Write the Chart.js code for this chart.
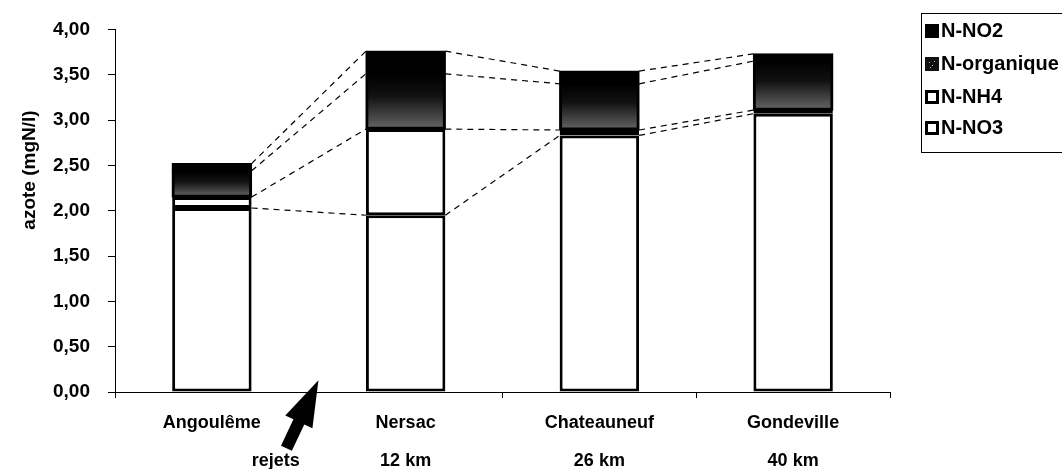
<!DOCTYPE html>
<html>
<head>
<meta charset="utf-8">
<script src="https://cdn.jsdelivr.net/npm/chart.js@4/dist/chart.umd.min.js"></script>
<style>
  html, body { margin: 0; padding: 0; background: #fff; }
  #wrap { width: 1062px; height: 469px; }
</style>
</head>
<body>
<div id="wrap"><canvas id="chart" width="1062" height="469"></canvas></div>
<script>
// stations along the river, with distance below
const categories = ['Angoulême', 'Nersac', 'Chateauneuf', 'Gondeville'];
const distances  = ['', '12 km', '26 km', '40 km'];

// nitrogen forms (mgN/l), stacked from the bottom
const nNO3 = [2.03, 1.95, 2.83, 3.07];
const nNH4 = [0.12, 0.95, 0.06, 0.04];
const nOrg = [0.29, 0.61, 0.51, 0.54];
const nNO2 = [0.08, 0.25, 0.14, 0.08];

const yMax  = 4;
const yStep = 0.5;

const FONT = "'Liberation Sans', Arial, sans-serif";

// organique: dark at the top fading into grey speckle at the bottom
function orgFill(c) {
  const chart = c.chart;
  const y = chart.scales && chart.scales.y;
  if (!y || !chart.chartArea) return '#333';
  const i = c.dataIndex;
  const lo = nNO3[i] + nNH4[i];
  const hi = lo + nOrg[i];
  const g = chart.ctx.createLinearGradient(0, y.getPixelForValue(hi), 0, y.getPixelForValue(lo));
  g.addColorStop(0, '#000');
  g.addColorStop(0.4, '#111');
  g.addColorStop(1, '#666');
  return g;
}

// dashed "series lines" joining each segment top between bars
const seriesLines = {
  id: 'seriesLines',
  beforeDatasetsDraw(chart) {
    const ctx = chart.ctx;
    ctx.save();
    ctx.strokeStyle = '#000';
    ctx.lineWidth = 1.2;
    ctx.setLineDash([6, 5]);
    chart.data.datasets.forEach((ds, d) => {
      const pts = chart.getDatasetMeta(d).data;
      for (let i = 0; i < pts.length - 1; i++) {
        const a = pts[i], b = pts[i + 1];
        ctx.beginPath();
        ctx.moveTo(a.x + a.width / 2, a.y);
        ctx.lineTo(b.x - b.width / 2, b.y);
        ctx.stroke();
      }
    });
    ctx.restore();
  }
};

// axis title, "rejets" arrow + text, and the boxed legend on the right
const extras = {
  id: 'extras',
  afterDraw(chart) {
    const ctx = chart.ctx;
    const x = chart.scales.x, y = chart.scales.y;
    ctx.save();

    ctx.fillStyle = '#000';
    ctx.font = 'bold 19px ' + FONT;
    ctx.textAlign = 'center';
    ctx.textBaseline = 'middle';
    ctx.translate(30, 170);
    ctx.rotate(-Math.PI / 2);
    ctx.fillText('azote (mgN/l)', 0, 0);
    ctx.setTransform(1, 0, 0, 1, 0, 0);

    // arrow pointing at the discharge between Angoulême and Nersac
    const tipX = x.getPixelForValue(0.55), tipY = y.getPixelForValue(0.13);
    const tailX = tipX - 32, tailY = tipY + 68;
    const dx = tipX - tailX, dy = tipY - tailY, len = Math.hypot(dx, dy);
    const ux = dx / len, uy = dy / len, px = -uy, py = ux;
    const headL = 46, headW = 15, shaftW = 6;
    const bx = tipX - ux * headL, by = tipY - uy * headL;
    ctx.beginPath();
    ctx.moveTo(tipX, tipY);
    ctx.lineTo(bx + px * headW, by + py * headW);
    ctx.lineTo(bx + px * shaftW, by + py * shaftW);
    ctx.lineTo(tailX + px * shaftW, tailY + py * shaftW);
    ctx.lineTo(tailX - px * shaftW, tailY - py * shaftW);
    ctx.lineTo(bx - px * shaftW, by - py * shaftW);
    ctx.lineTo(bx - px * headW, by - py * headW);
    ctx.closePath();
    ctx.fill();

    ctx.font = 'bold 18px ' + FONT;
    ctx.fillText('rejets', x.getPixelForValue(0.33), 461);

    // legend (top item = top of the stack)
    ctx.lineWidth = 1;
    ctx.strokeStyle = '#000';
    ctx.strokeRect(921.5, 13.5, 200, 139);
    ctx.font = 'bold 20px ' + FONT;
    const rows = [31, 64, 97, 128];
    chart.data.datasets.map((ds, d) => d).reverse().forEach((d, k) => {
      const cy = rows[k];
      const ds = chart.data.datasets[d];
      if (ds.legendFill === 'white') {
        ctx.fillStyle = '#000';
        ctx.fillRect(925, cy - 7, 14, 14);
        ctx.fillStyle = '#fff';
        ctx.fillRect(928, cy - 4, 8, 8);
      } else {
        ctx.fillStyle = ds.legendFill;
        ctx.fillRect(925, cy - 7, 14, 14);
        if (ds.legendFill !== '#000') {
          ctx.fillStyle = '#bbb';
          [[929, cy - 2], [932, cy + 1], [930, cy + 3], [934, cy - 3]].forEach(p => ctx.fillRect(p[0], p[1], 1, 1));
        }
      }
      ctx.fillStyle = '#000';
      ctx.textAlign = 'left';
      ctx.fillText(ds.label, 941, cy);
    });
    ctx.restore();
  }
};

const barCommon = {
  borderColor: '#000',
  borderWidth: 3,
  borderSkipped: false,
  categoryPercentage: 1,
  barPercentage: 0.41
};

new Chart(document.getElementById('chart'), {
  type: 'bar',
  data: {
    labels: categories.map((c, i) => [c, distances[i]]),
    datasets: [
      { ...barCommon, label: 'N-NO3',       data: nNO3, backgroundColor: '#fff', legendFill: 'white' },
      { ...barCommon, label: 'N-NH4',       data: nNH4, backgroundColor: '#fff', legendFill: 'white' },
      { ...barCommon, label: 'N-organique', data: nOrg, backgroundColor: orgFill, legendFill: '#111', inflateAmount: 0.6 },
      { ...barCommon, label: 'N-NO2',       data: nNO2, backgroundColor: '#000', legendFill: '#000', inflateAmount: 0.6 }
    ]
  },
  options: {
    responsive: false,
    animation: false,
    events: [],
    layout: { padding: { top: 25, right: 172, bottom: 0, left: 0 } },
    plugins: { legend: { display: false }, tooltip: { enabled: false } },
    scales: {
      x: {
        stacked: true,
        afterFit: s => { s.height = 77; },
        border: { color: '#000', width: 1 },
        grid: { offset: true, drawOnChartArea: false, color: '#000', tickLength: 6 },
        ticks: {
          color: '#000',
          padding: 6,
          maxRotation: 0,
          font: { family: FONT, size: 18, weight: 'bold', lineHeight: 2.1 }
        }
      },
      y: {
        stacked: true,
        min: 0,
        max: yMax,
        afterFit: s => { s.width = 115; },
        border: { color: '#000', width: 1 },
        grid: { drawOnChartArea: false, color: '#000', tickLength: 7 },
        ticks: {
          stepSize: yStep,
          color: '#000',
          padding: 18,
          font: { family: FONT, size: 19, weight: 'bold' },
          callback: v => v.toFixed(2).replace('.', ',')
        }
      }
    }
  },
  plugins: [seriesLines, extras]
});
</script>
</body>
</html>
